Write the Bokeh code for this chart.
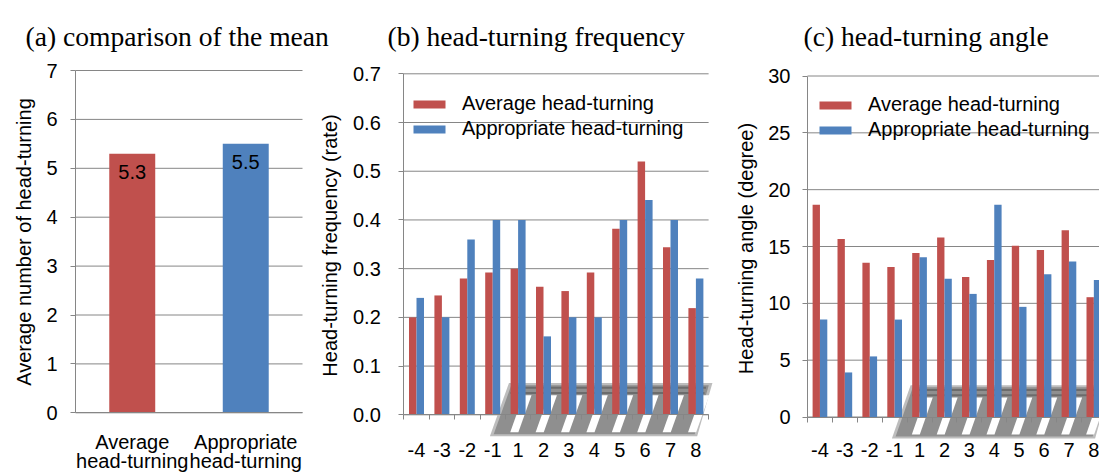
import numpy as np
from bokeh.plotting import figure
from bokeh.models import (FixedTicker, Range1d, ColumnDataSource, LabelSet, LinearAxis,
                          NumeralTickFormatter, Label, Legend, LegendItem)
from bokeh.core.properties import value
from bokeh.transform import dodge
from bokeh.embed import file_html
from bokeh.resources import INLINE

# ---------------- data ----------------
mean_categories = ["Average\nhead-turning", "Appropriate\nhead-turning"]
mean_values = [5.3, 5.5]
mean_ticks = [0, 1, 2, 3, 4, 5, 6, 7]

positions = ["-4", "-3", "-2", "-1", "1", "2", "3", "4", "5", "6", "7", "8"]
freq_average = [0.200, 0.245, 0.280, 0.292, 0.300, 0.263, 0.254, 0.292, 0.382, 0.520, 0.344, 0.219]
freq_appropriate = [0.240, 0.200, 0.360, 0.400, 0.400, 0.161, 0.200, 0.200, 0.400, 0.441, 0.400, 0.280]
freq_ticks = [0.0, 0.1, 0.2, 0.3, 0.4, 0.5, 0.6, 0.7]

angle_average = [18.67, 15.66, 13.58, 13.20, 14.43, 15.80, 12.32, 13.81, 15.07, 14.69, 16.42, 10.54]
angle_appropriate = [8.57, 3.92, 5.33, 8.57, 14.05, 12.17, 10.83, 18.67, 9.69, 12.56, 13.67, 12.06]
angle_ticks = [0, 5, 10, 15, 20, 25, 30]

titles = ["(a) comparison of the mean", "(b) head-turning frequency", "(c) head-turning angle"]
y_labels = ["Average number of head-turning", "Head-turning frequency (rate)",
            "Head-turning angle (degree)"]
series_names = ["Average head-turning", "Appropriate head-turning"]

RED = "#C0504D"
BLUE = "#4F81BD"
GRID = "#868686"
SANS = "Liberation Sans"
SERIF = "Liberation Serif"
FS = "20px"
BAR_W = 0.295
W, H = 1099, 474

p = figure(width=W, height=H, output_backend="svg", toolbar_location=None,
           min_border=0, min_border_left=0, min_border_right=0, min_border_top=0,
           min_border_bottom=0, x_axis_location=None, y_axis_location=None,
           x_range=Range1d(0, W), y_range=Range1d(0, H))
p.title = None
p.outline_line_color = None
p.background_fill_color = None
p.border_fill_color = None
p.xgrid.visible = False
p.ygrid.visible = False


def add_panel(name, axis_px, px_per_cat, top_val, top_px, zero_px):
    # each panel gets its own ranges laid over the common frame
    p.extra_x_ranges[name] = Range1d(-0.5 - axis_px / px_per_cat, -0.5 + (W - axis_px) / px_per_cat)
    ppu = (zero_px - top_px) / top_val
    p.extra_y_ranges[name] = Range1d(-(H - zero_px) / ppu, top_val + top_px / ppu)


def add_gridlines(name, ticks, x_end):
    n = len(ticks)
    p.segment(x0=[-0.5] * n, y0=ticks, x1=[x_end] * n, y1=ticks, line_color=GRID,
              line_width=1, x_range_name=name, y_range_name=name)


def add_texts(title, title_x, ylab, ylab_x, ylab_y):
    p.add_layout(Label(x=title_x, y=H - 36.4, x_units="screen", y_units="screen", text=title,
                       text_font=SERIF, text_font_size="27.6px", text_color="black",
                       text_align="left", text_baseline="alphabetic"))
    p.add_layout(Label(x=ylab_x, y=H - ylab_y, x_units="screen", y_units="screen", text=ylab,
                       angle=np.pi / 2, text_font=SANS, text_font_size=FS, text_color="black",
                       text_align="center", text_baseline="middle"))


def style_axes(name, ticks, ymax, x_end, label_standoff, x_ticks, x_minor, x_labels, x_standoff,
               fmt=None, x_line_height=1.2):
    ya = LinearAxis(ticker=FixedTicker(ticks=ticks, minor_ticks=[]), bounds=(0, ymax),
                    fixed_location=-0.5, x_range_name=name, y_range_name=name)
    ya.major_label_text_font = SANS
    ya.major_label_text_font_size = FS
    ya.major_label_text_color = "black"
    ya.major_label_standoff = label_standoff
    ya.axis_line_color = GRID
    ya.major_tick_line_color = GRID
    ya.major_tick_out = 5
    ya.major_tick_in = 0
    ya.minor_tick_line_color = None
    if fmt:
        ya.formatter = NumeralTickFormatter(format=fmt)
    p.add_layout(ya, "left")

    xa = LinearAxis(ticker=FixedTicker(ticks=list(x_ticks), minor_ticks=list(x_minor)),
                    fixed_location=0, bounds=(-0.5, x_end), x_range_name=name, y_range_name=name)
    xa.major_label_overrides = {float(t): lab for t, lab in zip(x_ticks, x_labels)}
    xa.major_label_text_font = SANS
    xa.major_label_text_font_size = FS
    xa.major_label_text_color = "black"
    xa.major_label_text_line_height = x_line_height
    xa.major_label_standoff = x_standoff
    xa.axis_line_color = GRID
    xa.major_tick_out = 0
    xa.major_tick_in = 0
    xa.major_tick_line_color = None
    if len(x_minor):
        xa.minor_tick_line_color = GRID
        xa.minor_tick_out = 5
        xa.minor_tick_in = 0
    else:
        xa.minor_tick_line_color = None
    p.add_layout(xa, "below")


def draw_crosswalk(name, ymax):
    # decorative crosswalk picture lying across the lower axis
    kw = dict(x_range_name=name, y_range_name=name)
    top = 0.093 * ymax
    bot = -0.063 * ymax
    slant = 0.75

    def frac(y):
        return (y - bot) / (top - bot)

    def lx(y, d=0.0):
        return 2.89 + d + slant * frac(y)

    def rx(y, d=0.0):
        return 11.05 - d + 0.6 * frac(y)

    p.patch([lx(top), rx(top), rx(bot), lx(bot)], [top, top, bot, bot],
            fill_color="#bdbdbd", line_color=None, **kw)
    it, ib = top - 0.006 * ymax, bot + 0.006 * ymax
    p.patch([lx(it, 0.12), rx(it, 0.12), rx(ib, 0.12), lx(ib, 0.12)],
            [it, it, ib, ib], fill_color="#8f8f8f", line_color=None, **kw)
    for yy in (top - 0.014 * ymax, top - 0.029 * ymax):
        p.segment(x0=lx(yy, 0.2), y0=yy, x1=rx(yy, 0.2), y1=yy,
                  line_color="#6c6c6c", line_width=2, **kw)
    sb, st = bot + 0.012 * ymax, top - 0.036 * ymax
    w = 0.32
    d = slant * (frac(st) - frac(sb))
    xs, yss = [], []
    for k in range(8):
        c = 3.85 + k
        xs.append([c - w / 2 + d, c + w / 2 + d, c + w / 2, c - w / 2])
        yss.append([st, st, sb, sb])
    p.patches(xs, yss, fill_color="white", line_color=None, **kw)


def grouped_bars(name, avg, app, legend_loc):
    src = ColumnDataSource(dict(x=np.arange(len(positions)), avg=avg, app=app))
    r1 = p.vbar(x=dodge("x", -BAR_W / 2), top="avg", width=BAR_W, bottom=0, source=src,
                fill_color=RED, line_color=None, x_range_name=name, y_range_name=name)
    r2 = p.vbar(x=dodge("x", BAR_W / 2), top="app", width=BAR_W, bottom=0, source=src,
                fill_color=BLUE, line_color=None, x_range_name=name, y_range_name=name)
    lg = Legend(items=[LegendItem(label=series_names[0], renderers=[r1]),
                       LegendItem(label=series_names[1], renderers=[r2])],
                location=legend_loc, border_line_color=None, background_fill_alpha=0,
                padding=0, margin=0, glyph_width=40, glyph_height=10, label_standoff=13,
                label_height=10, spacing=2, label_text_font=SANS, label_text_font_size=FS,
                label_text_color="black")
    p.add_layout(lg)


idx = np.arange(len(positions))
bounds_x = np.arange(len(positions) + 1) - 0.5

# ---------------- panel (a) ----------------
add_panel("a", 75, 113.5, 7, 70, 412.3)
add_gridlines("a", mean_ticks, len(mean_categories) - 0.5)
xa_pos = list(range(len(mean_categories)))
src_a = ColumnDataSource(dict(x=xa_pos, top=mean_values, color=[RED, BLUE],
                              text=[f"{v:.1f}" for v in mean_values]))
p.vbar(x="x", top="top", width=0.405, bottom=0, fill_color="color", line_color=None,
       source=src_a, x_range_name="a", y_range_name="a")
p.add_layout(LabelSet(x="x", y="top", text="text", source=src_a, text_align="center",
                      text_baseline="middle", y_offset=-18, text_font=value(SANS),
                      text_font_size=value(FS), text_color="black",
                      x_range_name="a", y_range_name="a"))
style_axes("a", mean_ticks, 7, len(mean_categories) - 0.5, 13,
           xa_pos, [], mean_categories, 18, x_line_height=0.87)
add_texts(titles[0], 25, y_labels[0], 23, 241.5)

# ---------------- panel (b) ----------------
add_panel("b", 403.3, 25.4, 0.7, 73.3, 414.3)
add_gridlines("b", freq_ticks, len(positions) - 0.5)
draw_crosswalk("b", 0.7)
grouped_bars("b", freq_average, freq_appropriate, (409, 334))
style_axes("b", freq_ticks, 0.7, len(positions) - 0.5, 18,
           idx, bounds_x, positions, 23, fmt="0.0")
add_texts(titles[1], 387, y_labels[1], 329, 245)

# ---------------- panel (c) ----------------
add_panel("c", 807, 24.9, 30, 75.5, 416.5)
add_gridlines("c", angle_ticks, len(positions) + 1)
draw_crosswalk("c", 30)
grouped_bars("c", angle_average, angle_appropriate, (815, 333))
style_axes("c", angle_ticks, 30, len(positions) + 1, 12,
           idx, bounds_x, positions, 21)
add_texts(titles[2], 803, y_labels[2], 745, 248)

open("out.html", "w").write(file_html(p, INLINE))
